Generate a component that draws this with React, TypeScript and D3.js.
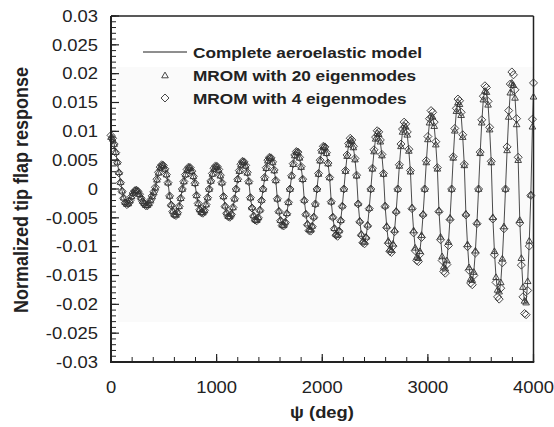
import React from 'react';
import * as d3 from 'd3';

// rotor azimuth ψ (deg)
const psi = [
  0, 15, 30, 45, 60, 75, 90, 105, 120, 135, 150, 165, 180, 195, 210, 225, 240, 255, 270, 285,
  300, 315, 330, 345, 360, 375, 390, 405, 420, 435, 450, 465, 480, 495, 510, 525, 540, 555, 570, 585,
  600, 615, 630, 645, 660, 675, 690, 705, 720, 735, 750, 765, 780, 795, 810, 825, 840, 855, 870, 885,
  900, 915, 930, 945, 960, 975, 990, 1005, 1020, 1035, 1050, 1065, 1080, 1095, 1110, 1125, 1140, 1155, 1170, 1185,
  1200, 1215, 1230, 1245, 1260, 1275, 1290, 1305, 1320, 1335, 1350, 1365, 1380, 1395, 1410, 1425, 1440, 1455, 1470, 1485,
  1500, 1515, 1530, 1545, 1560, 1575, 1590, 1605, 1620, 1635, 1650, 1665, 1680, 1695, 1710, 1725, 1740, 1755, 1770, 1785,
  1800, 1815, 1830, 1845, 1860, 1875, 1890, 1905, 1920, 1935, 1950, 1965, 1980, 1995, 2010, 2025, 2040, 2055, 2070, 2085,
  2100, 2115, 2130, 2145, 2160, 2175, 2190, 2205, 2220, 2235, 2250, 2265, 2280, 2295, 2310, 2325, 2340, 2355, 2370, 2385,
  2400, 2415, 2430, 2445, 2460, 2475, 2490, 2505, 2520, 2535, 2550, 2565, 2580, 2595, 2610, 2625, 2640, 2655, 2670, 2685,
  2700, 2715, 2730, 2745, 2760, 2775, 2790, 2805, 2820, 2835, 2850, 2865, 2880, 2895, 2910, 2925, 2940, 2955, 2970, 2985,
  3000, 3015, 3030, 3045, 3060, 3075, 3090, 3105, 3120, 3135, 3150, 3165, 3180, 3195, 3210, 3225, 3240, 3255, 3270, 3285,
  3300, 3315, 3330, 3345, 3360, 3375, 3390, 3405, 3420, 3435, 3450, 3465, 3480, 3495, 3510, 3525, 3540, 3555, 3570, 3585,
  3600, 3615, 3630, 3645, 3660, 3675, 3690, 3705, 3720, 3735, 3750, 3765, 3780, 3795, 3810, 3825, 3840, 3855, 3870, 3885,
  3900, 3915, 3930, 3945, 3960, 3975, 3990, 4000,
];

const complete = [
  0.0090, 0.0087, 0.0078, 0.0064, 0.0047, 0.0029, 0.0012, -0.0003, -0.0015, -0.0023, -0.0026, -0.0025, -0.0020, -0.0013,
  -0.0007, -0.0003, -0.0002, -0.0004, -0.0009, -0.0015, -0.0021, -0.0025, -0.0028, -0.0028, -0.0025, -0.0019, -0.0013, -0.0006,
  0.0002, 0.0016, 0.0028, 0.0037, 0.0041, 0.0040, 0.0035, 0.0025, 0.0011, -0.0012, -0.0027, -0.0038, -0.0044, -0.0045, -0.0040, -0.0030, -0.0016,
  0.0000, 0.0013, 0.0025, 0.0033, 0.0037, 0.0036, 0.0031, 0.0022, 0.0010, -0.0011, -0.0025, -0.0035, -0.0040, -0.0041, -0.0037, -0.0027, -0.0015,
  0.0000, 0.0014, 0.0026, 0.0035, 0.0039, 0.0038, 0.0033, 0.0023, 0.0011, -0.0013, -0.0029, -0.0041, -0.0047, -0.0048, -0.0043, -0.0032, -0.0017,
  0.0000, 0.0017, 0.0031, 0.0042, 0.0047, 0.0046, 0.0040, 0.0028, 0.0013, -0.0015, -0.0032, -0.0046, -0.0053, -0.0054, -0.0049, -0.0036, -0.0019,
  0.0000, 0.0019, 0.0036, 0.0049, 0.0054, 0.0053, 0.0046, 0.0032, 0.0015, -0.0017, -0.0038, -0.0054, -0.0062, -0.0063, -0.0057, -0.0042, -0.0023,
  0.0000, 0.0023, 0.0043, 0.0058, 0.0064, 0.0063, 0.0054, 0.0038, 0.0017, -0.0019, -0.0043, -0.0060, -0.0070, -0.0071, -0.0064, -0.0048, -0.0026,
  0.0000, 0.0026, 0.0049, 0.0066, 0.0073, 0.0072, 0.0062, 0.0044, 0.0020, -0.0022, -0.0048, -0.0068, -0.0078, -0.0080, -0.0072, -0.0054, -0.0029,
  0.0000, 0.0031, 0.0057, 0.0077, 0.0085, 0.0083, 0.0072, 0.0051, 0.0023, -0.0025, -0.0055, -0.0078, -0.0090, -0.0092, -0.0083, -0.0062, -0.0033,
  0.0000, 0.0035, 0.0065, 0.0087, 0.0097, 0.0095, 0.0082, 0.0058, 0.0026, -0.0029, -0.0064, -0.0090, -0.0104, -0.0106, -0.0095, -0.0071, -0.0038,
  0.0000, 0.0040, 0.0074, 0.0099, 0.0110, 0.0108, 0.0094, 0.0066, 0.0030, -0.0032, -0.0072, -0.0102, -0.0118, -0.0120, -0.0108, -0.0080, -0.0043,
  0.0000, 0.0046, 0.0086, 0.0115, 0.0128, 0.0125, 0.0109, 0.0077, 0.0035, -0.0037, -0.0083, -0.0117, -0.0135, -0.0138, -0.0124, -0.0092, -0.0050,
  0.0000, 0.0054, 0.0101, 0.0135, 0.0150, 0.0147, 0.0128, 0.0090, 0.0041, -0.0043, -0.0096, -0.0136, -0.0157, -0.0160, -0.0144, -0.0107, -0.0058,
  0.0000, 0.0062, 0.0115, 0.0155, 0.0172, 0.0169, 0.0146, 0.0103, 0.0046, -0.0049, -0.0108, -0.0153, -0.0176, -0.0180, -0.0162, -0.0121, -0.0065,
  0.0000, 0.0067, 0.0125, 0.0167, 0.0186, 0.0182, 0.0158, 0.0112, 0.0050, -0.0054, -0.0120, -0.0170, -0.0196, -0.0198, -0.0160, -0.0090, -0.0010,
  0.0110, 0.0165,
];

const mrom20 = [
  0.0090, 0.0087, 0.0078, 0.0064, 0.0047, 0.0029, 0.0012, -0.0003, -0.0015, -0.0023, -0.0026, -0.0025, -0.0020, -0.0013,
  -0.0007, -0.0003, -0.0002, -0.0004, -0.0009, -0.0015, -0.0021, -0.0025, -0.0028, -0.0028, -0.0025, -0.0019, -0.0013, -0.0006,
  0.0002, 0.0016, 0.0028, 0.0037, 0.0041, 0.0040, 0.0035, 0.0025, 0.0011, -0.0012, -0.0027, -0.0038, -0.0044, -0.0045, -0.0040, -0.0030, -0.0016,
  0.0000, 0.0013, 0.0025, 0.0033, 0.0037, 0.0036, 0.0031, 0.0022, 0.0010, -0.0011, -0.0025, -0.0035, -0.0040, -0.0041, -0.0037, -0.0027, -0.0015,
  0.0000, 0.0014, 0.0026, 0.0035, 0.0039, 0.0038, 0.0033, 0.0023, 0.0011, -0.0013, -0.0029, -0.0041, -0.0047, -0.0048, -0.0043, -0.0032, -0.0017,
  0.0000, 0.0017, 0.0031, 0.0042, 0.0047, 0.0046, 0.0040, 0.0028, 0.0013, -0.0015, -0.0032, -0.0046, -0.0053, -0.0054, -0.0049, -0.0036, -0.0019,
  0.0000, 0.0019, 0.0036, 0.0049, 0.0054, 0.0053, 0.0046, 0.0032, 0.0015, -0.0017, -0.0038, -0.0054, -0.0062, -0.0063, -0.0057, -0.0042, -0.0023,
  0.0000, 0.0023, 0.0043, 0.0058, 0.0064, 0.0063, 0.0054, 0.0038, 0.0017, -0.0019, -0.0043, -0.0060, -0.0070, -0.0071, -0.0064, -0.0048, -0.0026,
  0.0000, 0.0026, 0.0049, 0.0066, 0.0073, 0.0072, 0.0062, 0.0044, 0.0020, -0.0022, -0.0048, -0.0068, -0.0078, -0.0080, -0.0072, -0.0054, -0.0029,
  0.0000, 0.0031, 0.0057, 0.0077, 0.0085, 0.0083, 0.0072, 0.0051, 0.0023, -0.0025, -0.0055, -0.0078, -0.0090, -0.0092, -0.0083, -0.0062, -0.0033,
  0.0000, 0.0035, 0.0065, 0.0087, 0.0097, 0.0095, 0.0082, 0.0058, 0.0026, -0.0029, -0.0064, -0.0090, -0.0104, -0.0106, -0.0095, -0.0071, -0.0038,
  0.0000, 0.0040, 0.0074, 0.0099, 0.0110, 0.0108, 0.0094, 0.0066, 0.0030, -0.0032, -0.0072, -0.0102, -0.0118, -0.0120, -0.0108, -0.0080, -0.0043,
  0.0000, 0.0046, 0.0086, 0.0115, 0.0127, 0.0125, 0.0109, 0.0077, 0.0035, -0.0037, -0.0083, -0.0117, -0.0135, -0.0138, -0.0124, -0.0092, -0.0050,
  0.0000, 0.0054, 0.0101, 0.0135, 0.0150, 0.0147, 0.0128, 0.0090, 0.0041, -0.0043, -0.0096, -0.0136, -0.0156, -0.0158, -0.0144, -0.0107, -0.0058,
  0.0000, 0.0062, 0.0115, 0.0155, 0.0170, 0.0168, 0.0146, 0.0103, 0.0046, -0.0049, -0.0108, -0.0153, -0.0175, -0.0178, -0.0162, -0.0121, -0.0065,
  0.0000, 0.0067, 0.0125, 0.0167, 0.0184, 0.0180, 0.0158, 0.0112, 0.0050, -0.0054, -0.0120, -0.0170, -0.0194, -0.0197, -0.0160, -0.0090, -0.0010,
  0.0108, 0.0160,
];

const mrom4 = [
  0.0093, 0.0088, 0.0078, 0.0063, 0.0046, 0.0028, 0.0011, -0.0004, -0.0016, -0.0024, -0.0027, -0.0025, -0.0020, -0.0013,
  -0.0007, -0.0003, -0.0002, -0.0004, -0.0009, -0.0016, -0.0022, -0.0026, -0.0029, -0.0029, -0.0025, -0.0019, -0.0012, -0.0005,
  0.0003, 0.0017, 0.0029, 0.0038, 0.0042, 0.0041, 0.0035, 0.0025, 0.0011, -0.0012, -0.0028, -0.0039, -0.0045, -0.0046, -0.0041, -0.0030, -0.0016,
  0.0000, 0.0013, 0.0025, 0.0034, 0.0038, 0.0037, 0.0031, 0.0022, 0.0010, -0.0011, -0.0025, -0.0036, -0.0041, -0.0042, -0.0037, -0.0027, -0.0015,
  0.0000, 0.0014, 0.0027, 0.0036, 0.0040, 0.0039, 0.0034, 0.0024, 0.0011, -0.0013, -0.0030, -0.0042, -0.0048, -0.0049, -0.0044, -0.0032, -0.0017,
  0.0000, 0.0017, 0.0032, 0.0043, 0.0048, 0.0047, 0.0041, 0.0029, 0.0013, -0.0015, -0.0033, -0.0047, -0.0054, -0.0055, -0.0050, -0.0037, -0.0020,
  0.0000, 0.0020, 0.0037, 0.0050, 0.0055, 0.0054, 0.0047, 0.0033, 0.0015, -0.0017, -0.0039, -0.0055, -0.0063, -0.0064, -0.0058, -0.0043, -0.0023,
  0.0000, 0.0023, 0.0044, 0.0059, 0.0065, 0.0064, 0.0055, 0.0039, 0.0017, -0.0020, -0.0044, -0.0062, -0.0072, -0.0073, -0.0065, -0.0049, -0.0026,
  0.0000, 0.0027, 0.0050, 0.0067, 0.0074, 0.0073, 0.0063, 0.0045, 0.0020, -0.0022, -0.0049, -0.0069, -0.0080, -0.0082, -0.0073, -0.0055, -0.0030,
  0.0000, 0.0032, 0.0059, 0.0079, 0.0088, 0.0085, 0.0074, 0.0053, 0.0024, -0.0026, -0.0057, -0.0080, -0.0093, -0.0095, -0.0085, -0.0064, -0.0034,
  0.0000, 0.0036, 0.0068, 0.0090, 0.0101, 0.0099, 0.0085, 0.0060, 0.0027, -0.0030, -0.0067, -0.0094, -0.0108, -0.0110, -0.0099, -0.0074, -0.0040,
  0.0000, 0.0042, 0.0078, 0.0104, 0.0116, 0.0113, 0.0099, 0.0069, 0.0032, -0.0034, -0.0076, -0.0107, -0.0124, -0.0126, -0.0113, -0.0084, -0.0045,
  0.0000, 0.0049, 0.0091, 0.0122, 0.0136, 0.0133, 0.0116, 0.0082, 0.0037, -0.0039, -0.0088, -0.0124, -0.0143, -0.0146, -0.0131, -0.0098, -0.0053,
  0.0000, 0.0056, 0.0105, 0.0140, 0.0156, 0.0153, 0.0133, 0.0094, 0.0043, -0.0045, -0.0100, -0.0141, -0.0163, -0.0166, -0.0150, -0.0111, -0.0060,
  0.0000, 0.0064, 0.0120, 0.0161, 0.0179, 0.0176, 0.0152, 0.0107, 0.0048, -0.0052, -0.0114, -0.0162, -0.0187, -0.0191, -0.0172, -0.0128, -0.0069,
  0.0000, 0.0073, 0.0136, 0.0182, 0.0203, 0.0198, 0.0172, 0.0122, 0.0055, -0.0059, -0.0132, -0.0187, -0.0216, -0.0218, -0.0176, -0.0099, -0.0011,
  0.0121, 0.0184,
];

const yTickValues = [0.03, 0.025, 0.02, 0.015, 0.01, 0.005, 0, -0.005, -0.01, -0.015, -0.02, -0.025, -0.03];
const yTickLabels = ['0.03', '0.025', '0.02', '0.015', '0.01', '0.005', '0', '-0.005', '-0.01', '-0.015', '-0.02', '-0.025', '-0.03'];
const xTickValues = [0, 1000, 2000, 3000, 4000];
const xTickLabels = ['0', '1000', '2000', '3000', '4000'];
const legendLabels = ['Complete aeroelastic model', 'MROM with 20 eigenmodes', 'MROM with 4 eigenmodes'];
const xTitle = 'ψ (deg)';
const yTitle = 'Normalized tip flap response';

const FONT = '"Liberation Sans", Arial, Helvetica, sans-serif';
const INK = '#222';
const MARK = '#333';
const SX = 1.15;

const triPath = 'M0,-3.4L3.3,2.3L-3.3,2.3Z';
const diaPath = 'M0,-4L4,0L0,4L-4,0Z';

export default function App() {
  const W = 554;
  const H = 427;
  const left = 111;
  const right = 533.5;
  const top = 16;
  const bottom = 362;

  const x = d3.scaleLinear().domain([0, 4000]).range([left, right]);
  const y = d3.scaleLinear().domain([-0.03, 0.03]).range([bottom, top]);

  const lineGen = d3
    .line<number>()
    .x((_, i) => x(psi[i]))
    .y((d) => y(d));

  const yMinor = y.ticks(60);
  const xMinor = x.ticks(20);

  return (
    <svg
      width={W}
      height={H}
      viewBox={`0 0 ${W} ${H}`}
      style={{ position: 'absolute', left: 0, top: 0, background: '#fff' }}
    >
      <rect x={0} y={0} width={W} height={H} fill="#fff" />
      <rect x={118} y={67} width={right - 118} height={322 - 67} fill="#fafafa" />

      {/* frame */}
      <line x1={left} y1={top} x2={right} y2={top} stroke={INK} strokeWidth={1.3} />
      <line x1={right} y1={top} x2={right} y2={bottom} stroke={INK} strokeWidth={1.5} />

      {/* y ticks */}
      {yMinor.map((v, i) => (
        <line key={'ym' + i} x1={left} x2={left + 5} y1={y(v)} y2={y(v)} stroke={INK} strokeWidth={1} />
      ))}
      {yTickValues.map((v, i) => (
        <line key={'yM' + i} x1={left} x2={left + 8} y1={y(v)} y2={y(v)} stroke={INK} strokeWidth={1.2} />
      ))}
      {/* x ticks */}
      {xMinor.map((v, i) => (
        <line key={'xm' + i} x1={x(v)} x2={x(v)} y1={bottom} y2={bottom - 5} stroke={INK} strokeWidth={1} />
      ))}
      {xTickValues.map((v, i) => (
        <line key={'xM' + i} x1={x(v)} x2={x(v)} y1={bottom} y2={bottom - 8} stroke={INK} strokeWidth={1.2} />
      ))}

      {/* data */}
      <path d={lineGen(complete) || ''} fill="none" stroke="#1e1e1e" strokeWidth={0.8} />
      {mrom20.map((v, i) => (
        <path
          key={'t' + i}
          d={triPath}
          transform={`translate(${x(psi[i])},${y(v)})`}
          fill="none"
          stroke={MARK}
          strokeWidth={0.9}
        />
      ))}
      {mrom4.map((v, i) => (
        <path
          key={'d' + i}
          d={diaPath}
          transform={`translate(${x(psi[i])},${y(v)})`}
          fill="none"
          stroke={MARK}
          strokeWidth={0.9}
        />
      ))}

      {/* main axes */}
      <line x1={left} y1={top} x2={left} y2={bottom + 1} stroke={INK} strokeWidth={2} />
      <line x1={left - 1} y1={bottom} x2={right + 0.75} y2={bottom} stroke={INK} strokeWidth={2} />

      {/* y tick labels */}
      {yTickValues.map((v, i) => (
        <text
          key={'yl' + i}
          transform={`translate(98,${y(v) + 5.8}) scale(${SX},1)`}
          textAnchor="end"
          fontFamily={FONT}
          fontSize={16}
          fill={INK}
        >
          {yTickLabels[i]}
        </text>
      ))}
      {/* x tick labels */}
      {xTickValues.map((v, i) => (
        <text
          key={'xl' + i}
          transform={`translate(${x(v)},392.5) scale(${SX},1)`}
          textAnchor="middle"
          fontFamily={FONT}
          fontSize={16}
          fill={INK}
        >
          {xTickLabels[i]}
        </text>
      ))}

      {/* titles */}
      <text
        transform={`translate(322,418) scale(${SX},1)`}
        textAnchor="middle"
        fontFamily={FONT}
        fontSize={16}
        fontWeight="bold"
        fill={INK}
      >
        {xTitle}
      </text>
      <text
        transform={`translate(28,190) scale(${SX},1) rotate(-90)`}
        textAnchor="middle"
        fontFamily={FONT}
        fontSize={18}
        fontWeight="bold"
        fill={INK}
      >
        {yTitle}
      </text>

      {/* legend */}
      <line x1={143} x2={187} y1={52} y2={52} stroke="#1e1e1e" strokeWidth={1} />
      <path d={triPath} transform="translate(165,75.5)" fill="none" stroke={MARK} strokeWidth={0.9} />
      <path d={diaPath} transform="translate(165,98)" fill="none" stroke={MARK} strokeWidth={0.9} />
      {legendLabels.map((t, i) => (
        <text
          key={'lg' + i}
          transform={`translate(193,${[57.5, 81, 103.5][i]}) scale(${SX},1)`}
          fontFamily={FONT}
          fontSize={15}
          fontWeight="bold"
          fill={INK}
        >
          {t}
        </text>
      ))}
    </svg>
  );
}
